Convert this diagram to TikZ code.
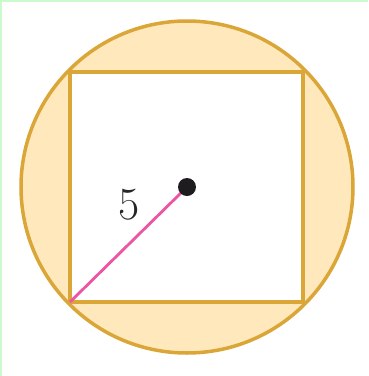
\documentclass[tikz,border=0pt]{standalone}
\usepackage{fix-cm}
\definecolor{gold}{RGB}{219,166,56}
\definecolor{cream}{RGB}{255,233,188}
\definecolor{pinkline}{RGB}{236,84,164}
\definecolor{dotblack}{RGB}{30,28,30}
\definecolor{edgegreen}{RGB}{205,250,205}
\tikzset{
  ring/.style={draw=gold, fill=cream, line width=3.5pt},
  inner square/.style={draw=gold, fill=white, line width=3.5pt},
  radius line/.style={draw=pinkline, line width=2.8pt},
  centre dot/.style={circle, fill=dotblack, inner sep=0pt, minimum size=18pt},
  label text/.style={font=\fontsize{46}{52}\selectfont, text=black!85, inner sep=0pt}
}
\begin{document}
\begin{tikzpicture}[x=1pt,y=-1pt]
\useasboundingbox (0,0) rectangle (368,376);
\fill[white] (0,0) rectangle (368,376);
\draw[edgegreen, line width=2pt] (1,376) -- (1,1) -- (368,1);
\coordinate (mid) at (187,187);
\path[ring] (mid) circle[radius=166];
\path[inner square] (70,72) rectangle (303,302);
\coordinate (corner) at (70,302);
\draw[radius line] (mid) -- (corner);
\node[centre dot] (dot) at (mid) {};
\node[label text] (five) at (129.5,204.5) {5};
\end{tikzpicture}
\end{document}
